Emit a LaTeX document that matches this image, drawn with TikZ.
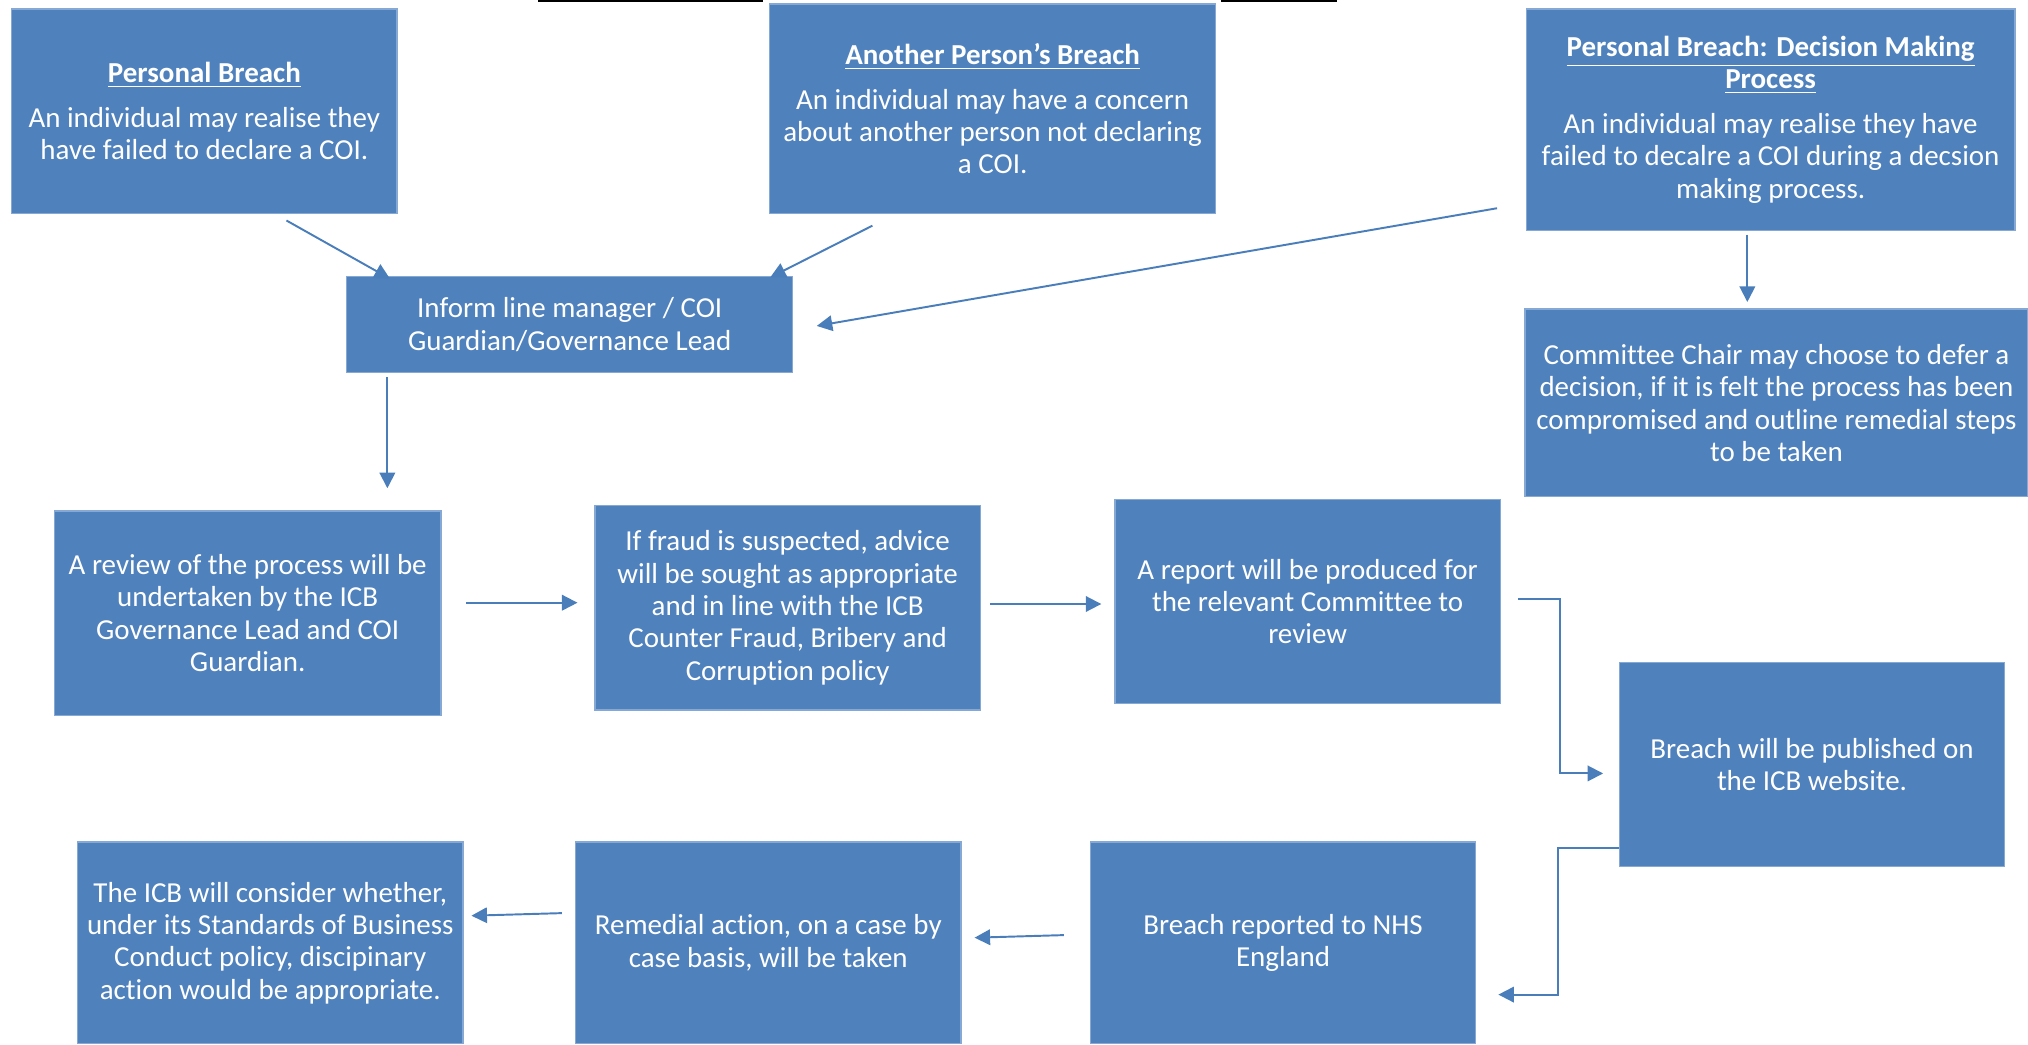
\documentclass[tikz,border=0pt]{standalone}
\usepackage{fontspec}
\setmainfont{Carlito}[Ligatures=NoCommon]
\usetikzlibrary{arrows.meta,calc}
\definecolor{boxblue}{HTML}{4F81BD}
\definecolor{edgeblue}{HTML}{86A8D5}
\definecolor{lineblue}{HTML}{4A7EBB}
\tikzset{
  box/.style={fill=boxblue, draw=edgeblue, line width=0.5pt, text=white, align=center, inner sep=0pt,
    font=\fontsize{11.2}{12.5}\selectfont},
  arr/.style={draw=lineblue, line width=0.75pt, -{Triangle[length=6pt,width=6pt]}},
  topline/.style={draw=black, line width=0.8pt}
}
\newcommand{\ttl}[1]{\textbf{\underline{#1}}}
\begin{document}
\begin{tikzpicture}[x=0.5pt,y=-0.5pt]
\useasboundingbox (0,0) rectangle (1568,807.2);
% cropped title underlines
\coordinate (ta) at (416,0.8); \coordinate (tb) at (590,0.8);
\coordinate (tc) at (944,0.8); \coordinate (td) at (1034,0.8);
\draw[topline] (ta) -- (tb);
\draw[topline] (tc) -- (td);

\node[box, minimum width=149pt, minimum height=79pt] (b1) at (158,86)
  {\ttl{Personal Breach}\\[4.75pt]An individual may realise they\\have failed to declare a COI.};
\node[box, minimum width=172.5pt, minimum height=81pt] (b2) at (767.5,84)
  {\ttl{Another Person's Breach}\\[4.75pt]An individual may have a concern\\about another person not declaring\\a COI.};
\node[box, minimum width=189pt, minimum height=85.5pt] (b3) at (1369,92.5)
  {\ttl{Personal Breach: Decision Making}\\\ttl{Process}\\[4.75pt]An individual may realise they have\\failed to decalre a COI during a decsion\\making process.};
\node[box, minimum width=172.5pt, minimum height=37pt] (b4) at (440.5,251)
  {Inform line manager / COI\\Guardian/Governance Lead};
\node[box, minimum width=194.5pt, minimum height=72.5pt] (b5) at (1373.5,311.5)
  {Committee Chair may choose to defer a\\decision, if it is felt the process has been\\compromised and outline remedial steps\\to be taken};
\node[box, minimum width=149.5pt, minimum height=79pt] (b6) at (191.5,474)
  {A review of the process will be\\undertaken by the ICB\\Governance Lead and COI\\Guardian.};
\node[box, minimum width=149pt, minimum height=79pt] (b7) at (609,470)
  {If fraud is suspected, advice\\will be sought as appropriate\\and in line with the ICB\\Counter Fraud, Bribery and\\Corruption policy};
\node[box, minimum width=149pt, minimum height=79pt] (b8) at (1011,465)
  {A report will be produced for\\the relevant Committee to\\review};
\node[box, minimum width=149pt, minimum height=79pt] (b9) at (1401,591)
  {Breach will be published on\\the ICB website.};
\node[box, minimum width=149pt, minimum height=78pt] (b10) at (992,729)
  {Breach reported to NHS\\England};
\node[box, minimum width=149pt, minimum height=78pt] (b11) at (594,729)
  {Remedial action, on a case by\\case basis, will be taken};
\node[box, minimum width=149pt, minimum height=78pt] (b12) at (209,729)
  {The ICB will consider whether,\\under its Standards of Business\\Conduct policy, discipinary\\action would be appropriate.};

% connectors
\draw[arr] ($(b1.south west)+(213,5)$) -- ($(b4.north west)+(34,2)$);
\draw[arr] ($(b2.south west)+(80,9)$) -- ($(b4.north east)+(-18,1)$);
\draw[arr] ($(b3.west)+(-22,68.5)$) -- ($(b4.east)+(18,1)$);
\draw[arr] ($(b3.south)+(-18,3)$) -- ($(b5.north)+(-22.5,-5)$);
\draw[arr] ($(b4.south west)+(32,3)$) -- ($(b6.north west)+(258,-17)$);
\draw[arr] ($(b6.east)+(19,-8)$) -- ($(b7.west)+(-13,-4)$);
\draw[arr] ($(b7.east)+(7,-3)$) -- ($(b8.west)+(-10,2)$);
\draw[arr] ($(b8.east)+(13,-2)$) -- ++(33,0) |- ($(b9.west)+(-12,7)$);
\draw[arr] ($(b9.south west)+(0,-15)$) -- ++(-47,0) |- ($(b10.east)+(17,40)$);
\draw[arr] ($(b10.west)+(-20,-6)$) -- ($(b11.east)+(10,-4)$);
\draw[arr] ($(b11.west)+(-10,-23)$) -- ($(b12.east)+(6,-21)$);
\end{tikzpicture}
\end{document}
